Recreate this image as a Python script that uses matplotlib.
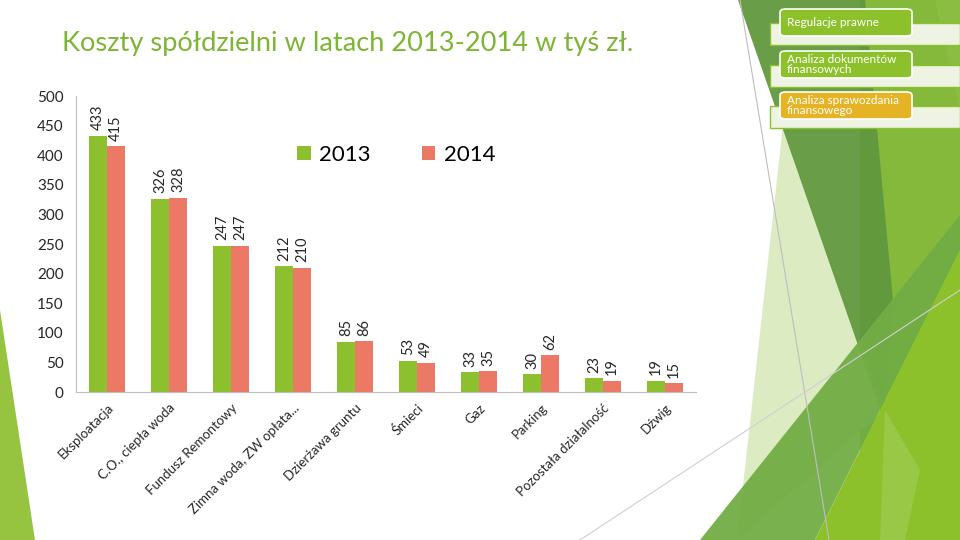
import matplotlib.pyplot as plt
import numpy as np
from matplotlib.patches import Polygon, FancyBboxPatch, Rectangle
from matplotlib.lines import Line2D
from matplotlib.transforms import ScaledTranslation

# dane
categories = ['Eksploatacja', 'C.O., ciepła woda', 'Fundusz Remontowy',
              'Zimna woda, ZW opłata...', 'Dzierżawa gruntu', 'Śmieci', 'Gaz',
              'Parking', 'Pozostała działalność', 'Dźwig']
values_2013 = [433, 326, 247, 212, 85, 53, 33, 30, 23, 19]
values_2014 = [415, 328, 247, 210, 86, 49, 35, 62, 19, 15]
series_names = ['2013', '2014']
side_items = ['Regulacje prawne', 'Analiza dokumentów\nfinansowych',
              'Analiza sprawozdania\nfinansowego']

GREEN = '#8DC02F'
RED = '#EC7966'
plt.rcParams['font.family'] = ['Lato', 'DejaVu Sans']

W, H = 960, 540
fig = plt.figure(figsize=(9.6, 5.4), dpi=100)
fig.patch.set_facecolor('white')


def px(points):
    # piksele (y w dół) -> ułamek figury
    return [(x / W, 1 - y / H) for x, y in points]


def poly(points, color, alpha=1.0, z=-10):
    fig.add_artist(Polygon(px(points), closed=True, facecolor=color, edgecolor='none',
                           alpha=alpha, transform=fig.transFigure, zorder=z))


# tło slajdu - zielone kształty
poly([(0, 310), (35, 540), (0, 540)], '#96C340')
poly([(860, 0), (960, 0), (960, 540), (860, 540)], '#84B93C')
poly([(783, 125), (885, 410), (737, 540)], '#D9E9BC', 0.9)
poly([(738, 0), (865, 0), (893, 300), (884, 420)], '#62983E', 0.95)
poly([(700, 540), (815, 540), (960, 250), (960, 215)], '#72AD45', 0.95)
poly([(815, 540), (960, 540), (960, 250)], '#8DC12B')
poly([(885, 410), (920, 470), (905, 540), (880, 540)], '#A6CD62', 0.5)
poly([(935, 0), (960, 0), (960, 110)], '#8FC145', 0.6)
fig.add_artist(Line2D([740 / W, 829 / W], [1, 0], color='#BEBEBE', lw=0.8,
                      transform=fig.transFigure, zorder=-4))
fig.add_artist(Line2D([580 / W, 960 / W], [0, 1 - 290 / H], color='#D0D0D0', lw=0.8,
                      transform=fig.transFigure, zorder=-4))

# panele w prawym górnym rogu
box_colors = ['#8DC12B', '#8DC12B', '#E6B324']
box_tops = [9, 51, 92]
for label, col, top in zip(side_items, box_colors, box_tops):
    fig.add_artist(Rectangle((770 / W, 1 - (top + 36) / H), 190 / W, 22 / H,
                             facecolor='#EEF3E3', edgecolor='#8DC12B', lw=1,
                             transform=fig.transFigure, zorder=1))
    fig.add_artist(FancyBboxPatch((780 / W, 1 - (top + 27) / H), 132 / W, 27 / H,
                                  boxstyle='round,pad=0,rounding_size=0.006',
                                  facecolor=col, edgecolor='white', lw=1.2,
                                  transform=fig.transFigure, zorder=2))
    fig.text(787 / W, 1 - (top + 13.5) / H, label, color='white', fontsize=8.5,
             va='center', ha='left', linespacing=0.9, zorder=3)

# tytuł
fig.text(62 / W, 1 - 43 / H, 'Koszty spółdzielni w latach 2013-2014 w tyś zł.',
         color='#7DB534', fontsize=19.6, va='center', ha='left')

# wykres
ax = fig.add_axes([76 / W, 1 - 392 / H, 620 / W, 296 / H])
ax.set_facecolor('none')
x = np.arange(len(categories))
bw = 0.29
b1 = ax.bar(x - bw / 2, values_2013, bw, color=GREEN, label=series_names[0])
b2 = ax.bar(x + bw / 2, values_2014, bw, color=RED, label=series_names[1])
for bars in (b1, b2):
    for b in bars:
        ax.annotate(f'{b.get_height():.0f}', (b.get_x() + b.get_width() / 2, b.get_height()),
                    xytext=(0, 4), textcoords='offset points', rotation=90,
                    ha='center', va='bottom', fontsize=10.5, color='#262626')

ax.set_xlim(-0.5, len(categories) - 0.5)
ax.set_ylim(0, 500)
ax.set_yticks(range(0, 501, 50))
ax.set_xticks(x)
ax.set_xticklabels(categories, rotation=45, ha='right', rotation_mode='anchor',
                   fontsize=9.5, color='#262626')
shift = ScaledTranslation(-8 / 100, 0, fig.dpi_scale_trans)
for lab in ax.get_xticklabels():
    lab.set_transform(lab.get_transform() + shift)
ax.tick_params(axis='both', length=0)
ax.tick_params(axis='y', labelsize=11, labelcolor='#262626', pad=9)
ax.tick_params(axis='x', pad=7)
for s in ['top', 'right']:
    ax.spines[s].set_visible(False)
for s in ['left', 'bottom']:
    ax.spines[s].set_color('#BFBFBF')

ax.legend(ncol=2, frameon=False, fontsize=16, loc='center', bbox_to_anchor=(0.517, 0.8),
          handlelength=0.6, handleheight=0.6, handletextpad=0.4, columnspacing=2.3)

fig.savefig('out.png', dpi=100)
